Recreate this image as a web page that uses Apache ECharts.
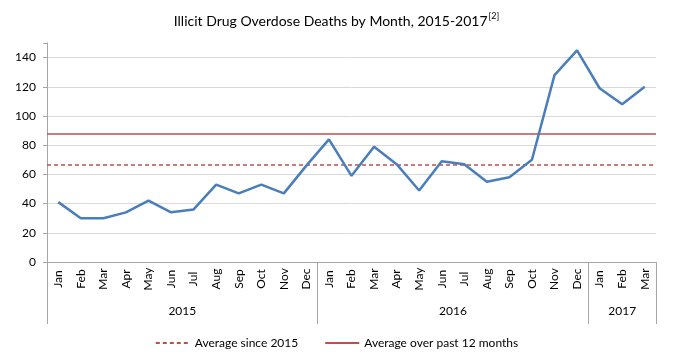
<!DOCTYPE html>
<html>
<head>
<meta charset="utf-8">
<script src="https://cdn.jsdelivr.net/npm/echarts@6/dist/echarts.min.js"></script>
<style>
  html, body { margin: 0; padding: 0; background: #fff; }
  #chart { width: 673px; height: 354px; }
</style>
</head>
<body>
<div id="chart"></div>
<script>
const months = [
  'Jan', 'Feb', 'Mar', 'Apr', 'May', 'Jun', 'Jul', 'Aug', 'Sep', 'Oct', 'Nov', 'Dec',
  'Jan', 'Feb', 'Mar', 'Apr', 'May', 'Jun', 'Jul', 'Aug', 'Sep', 'Oct', 'Nov', 'Dec',
  'Jan', 'Feb', 'Mar',
]
const years = ['2015', '2016', '2017']
const monthsPerYear = [12, 12, 3]
const deaths = [
  41, 30, 30, 34, 42, 34, 36, 53, 47, 53, 47, 66,
  84, 59, 79, 67, 49, 69, 67, 55, 58, 70, 128, 145,
  119, 108, 120,
]
const avgSince2015 = 66.5
const avgPast12 = 88
const yLabelMax = 140

// 年份分隔线位置和年份标签位置
const yearBounds = [0]
monthsPerYear.forEach((n) => yearBounds.push(yearBounds[yearBounds.length - 1] + n))
const yearCenters = years.map((y, i) => (yearBounds[i] + yearBounds[i + 1]) / 2)

const font = 'Lato, "Open Sans", sans-serif'
const gray = '#a6a6a6'
const red = '#b9514e'

const chart = echarts.init(document.getElementById('chart'))

const option = {
  animation: false,
  textStyle: { fontFamily: font },
  title: {
    text: '{t|Illicit Drug Overdose Deaths by Month, 2015-2017}{s|[2]}',
    left: 'center',
    top: 7,
    textStyle: {
      fontWeight: 'normal',
      rich: {
        t: { fontFamily: font, fontSize: 14, fontWeight: 'normal', color: '#000', lineHeight: 18 },
        s: { fontFamily: font, fontSize: 9, fontWeight: 'normal', color: '#000', verticalAlign: 'top', lineHeight: 18, padding: [0, 0, 6, 1] },
      },
    },
  },
  legend: {
    data: ['Average since 2015', 'Average over past 12 months'],
    top: 332,
    left: 'center',
    itemWidth: 34,
    itemHeight: 10,
    itemGap: 26,
    itemStyle: { opacity: 0 },
    textStyle: { fontFamily: font, fontSize: 12, color: '#000' },
  },
  grid: { left: 47, right: 17, top: 43, bottom: 92 },
  xAxis: [
    {
      type: 'category',
      data: months,
      boundaryGap: true,
      axisLine: { lineStyle: { color: gray } },
      axisTick: { interval: 0, length: 34, lineStyle: { color: gray } },
      axisLabel: {
        interval: 0,
        rotate: 90,
        align: 'center',
        margin: 17,
        fontSize: 12,
        color: '#000',
        fontFamily: font,
      },
    },
    {
      type: 'value',
      position: 'bottom',
      min: 0,
      max: yearBounds[yearBounds.length - 1],
      axisLine: { show: false },
      splitLine: { show: false },
      axisTick: { customValues: yearBounds, length: 62, lineStyle: { color: gray } },
      axisLabel: {
        customValues: yearCenters,
        margin: 43,
        fontSize: 12,
        color: '#000',
        fontFamily: font,
        formatter: (v) => years[yearCenters.indexOf(v)] || '',
      },
    },
  ],
  yAxis: {
    type: 'value',
    min: 0,
    max: 150,
    interval: 20,
    axisLine: { show: true, lineStyle: { color: gray } },
    axisTick: { show: true, length: 4, lineStyle: { color: gray } },
    axisLabel: {
      margin: 11,
      fontSize: 12,
      color: '#000',
      fontFamily: font,
      formatter: (v) => (v > yLabelMax ? '' : String(v)),
    },
    splitLine: { lineStyle: { color: '#d9d9d9' }, showMaxLine: false },
  },
  series: [
    {
      name: 'Deaths',
      type: 'line',
      data: deaths,
      symbol: 'none',
      lineStyle: { color: '#4a7ebb', width: 2.5 },
      itemStyle: { color: '#4a7ebb' },
      z: 5,
    },
    {
      name: 'Average since 2015',
      type: 'line',
      data: [],
      symbol: 'none',
      lineStyle: { color: red, width: 1.5, type: [4, 3] },
      itemStyle: { color: red, opacity: 0 },
      markLine: {
        silent: true,
        symbol: 'none',
        label: { show: false },
        lineStyle: { color: red, width: 1.5, type: [4, 3], opacity: 1 },
        data: [{ yAxis: avgSince2015 }],
      },
    },
    {
      name: 'Average over past 12 months',
      type: 'line',
      data: [],
      symbol: 'none',
      lineStyle: { color: red, width: 1.5 },
      itemStyle: { color: red, opacity: 0 },
      markLine: {
        silent: true,
        symbol: 'none',
        label: { show: false },
        lineStyle: { color: red, width: 1.5, type: 'solid', opacity: 1 },
        data: [{ yAxis: avgPast12 }],
      },
    },
  ],
}

chart.setOption(option)
</script>
</body>
</html>
